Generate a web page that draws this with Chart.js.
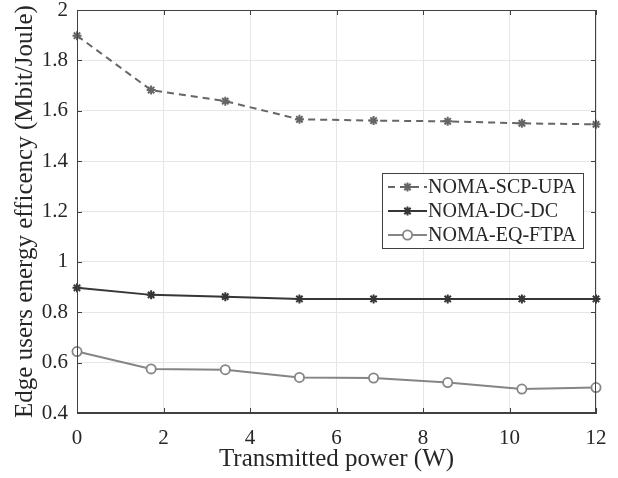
<!DOCTYPE html>
<html>
<head>
<meta charset="utf-8">
<script src="https://cdn.jsdelivr.net/npm/chart.js@4"></script>
<style>
  html, body { margin: 0; padding: 0; background: #fff; }
  #wrap { width: 618px; height: 478px; }
</style>
</head>
<body>
<div id="wrap"><canvas id="myChart" width="618" height="478"></canvas></div>
<script>
// transmitted power levels (W)
const power = [0, 1.714, 3.429, 5.143, 6.857, 8.571, 10.286, 12];

const scpUpa = [1.898, 1.682, 1.638, 1.566, 1.561, 1.558, 1.550, 1.546];
const dcDc = [0.897, 0.869, 0.862, 0.853, 0.853, 0.853, 0.853, 0.853];
const eqFtpa = [0.644, 0.575, 0.572, 0.541, 0.539, 0.521, 0.495, 0.501];

const seriesNames = ['NOMA-SCP-UPA', 'NOMA-DC-DC', 'NOMA-EQ-FTPA'];
const xTicks = [0, 2, 4, 6, 8, 10, 12];
const yTicks = [0.4, 0.6, 0.8, 1, 1.2, 1.4, 1.6, 1.8, 2];

const serif = '"Liberation Serif", "Times New Roman", serif';

function pts(ys) {
    return ys.map((y, i) => ({ x: power[i], y: y }));
}

const data = {
    datasets: [
        {
            label: seriesNames[0],
            data: pts(scpUpa),
            borderColor: '#666666',
            borderWidth: 2,
            borderDash: [7, 5],
            pointStyle: 'star',
            pointRadius: 4.5,
            pointBorderWidth: 2,
            pointBorderColor: '#666666',
            clip: false,
        },
        {
            label: seriesNames[1],
            data: pts(dcDc),
            borderColor: '#363636',
            borderWidth: 2,
            pointStyle: 'star',
            pointRadius: 4.5,
            pointBorderWidth: 2,
            pointBorderColor: '#363636',
            clip: false,
        },
        {
            label: seriesNames[2],
            data: pts(eqFtpa),
            borderColor: '#858585',
            borderWidth: 2,
            pointStyle: 'circle',
            pointRadius: 4.6,
            pointBorderWidth: 1.8,
            pointBorderColor: '#858585',
            pointBackgroundColor: '#ffffff',
            clip: false,
        },
    ],
};

// box outline, inward tick marks and the boxed legend
const axesDecor = {
    id: 'axesDecor',
    afterDraw(chart) {
        const ctx = chart.ctx;
        const a = chart.chartArea;
        const xs = chart.scales.x;
        const ys = chart.scales.y;
        const tl = 5;
        ctx.save();
        ctx.strokeStyle = '#404040';
        ctx.lineWidth = 1;
        ctx.strokeRect(a.left + 0.5, a.top + 0.5, a.right - a.left - 1, a.bottom - a.top - 1);
        ctx.beginPath();
        xTicks.forEach(v => {
            const px = Math.round(xs.getPixelForValue(v)) + 0.5;
            ctx.moveTo(px, a.bottom);
            ctx.lineTo(px, a.bottom - tl);
            ctx.moveTo(px, a.top);
            ctx.lineTo(px, a.top + tl);
        });
        yTicks.forEach(v => {
            const py = Math.round(ys.getPixelForValue(v)) + 0.5;
            ctx.moveTo(a.left, py);
            ctx.lineTo(a.left + tl, py);
            ctx.moveTo(a.right, py);
            ctx.lineTo(a.right - tl, py);
        });
        ctx.stroke();

        // legend
        const bw = 201, bh = 75;
        const bx = a.right - 13 - bw;
        const by = a.top + 163;
        ctx.fillStyle = '#ffffff';
        ctx.fillRect(bx, by, bw, bh);
        ctx.strokeStyle = '#404040';
        ctx.strokeRect(bx + 0.5, by + 0.5, bw, bh);
        ctx.font = '20px ' + serif;
        ctx.textBaseline = 'middle';
        ctx.textAlign = 'left';
        chart.data.datasets.forEach((ds, i) => {
            const cy = by + 14 + i * 24;
            const x0 = bx + 6, x1 = bx + 45;
            ctx.save();
            ctx.strokeStyle = ds.borderColor;
            ctx.lineWidth = ds.borderWidth;
            ctx.setLineDash(ds.borderDash || []);
            ctx.beginPath();
            ctx.moveTo(x0, cy);
            ctx.lineTo(x1, cy);
            ctx.stroke();
            ctx.setLineDash([]);
            ctx.fillStyle = ds.pointBackgroundColor || '#ffffff';
            ctx.strokeStyle = ds.pointBorderColor;
            ctx.lineWidth = ds.pointBorderWidth;
            Chart.helpers.drawPoint(ctx, {
                pointStyle: ds.pointStyle,
                radius: ds.pointRadius,
                borderWidth: ds.pointBorderWidth,
                rotation: 0,
            }, (x0 + x1) / 2, cy);
            ctx.restore();
            ctx.fillStyle = '#262626';
            ctx.fillText(ds.label, x1 + 1, cy + 1);
        });
        ctx.restore();
    },
};

const config = {
    type: 'line',
    data: data,
    options: {
        responsive: false,
        animation: false,
        layout: {
            padding: { top: 10, right: 22, left: 0, bottom: 0 },
        },
        plugins: {
            legend: false,
            tooltip: { enabled: false },
        },
        scales: {
            x: {
                type: 'linear',
                min: 0,
                max: 12,
                afterFit: s => {
                    s.height = 65;
                    s.paddingLeft = 0;
                    s.paddingRight = 0;
                },
                afterBuildTicks: s => { s.ticks = xTicks.map(v => ({ value: v })); },
                ticks: {
                    color: '#262626',
                    padding: 13,
                    font: { family: serif, size: 21 },
                },
                grid: { color: '#e6e6e6', drawTicks: false },
                border: { color: '#404040' },
                title: {
                    display: true,
                    text: 'Transmitted power (W)',
                    color: '#262626',
                    font: { family: serif, size: 25 },
                    padding: { top: 0, bottom: 4 },
                },
            },
            y: {
                type: 'linear',
                min: 0.4,
                max: 2,
                afterFit: s => {
                    s.width = 77;
                    s.paddingTop = 0;
                    s.paddingBottom = 0;
                },
                afterBuildTicks: s => { s.ticks = yTicks.map(v => ({ value: v })); },
                ticks: {
                    color: '#262626',
                    padding: 9,
                    font: { family: serif, size: 21 },
                    callback: v => String(Math.round(v * 10) / 10),
                },
                grid: { color: '#e6e6e6', drawTicks: false },
                border: { color: '#404040' },
                title: {
                    display: true,
                    text: 'Edge users energy efficency (Mbit/Joule)',
                    color: '#262626',
                    font: { family: serif, size: 25 },
                    padding: { top: 10, bottom: 0 },
                },
            },
        },
    },
    plugins: [axesDecor],
};

var myChart = new Chart(document.getElementById('myChart'), config);
</script>
</body>
</html>
